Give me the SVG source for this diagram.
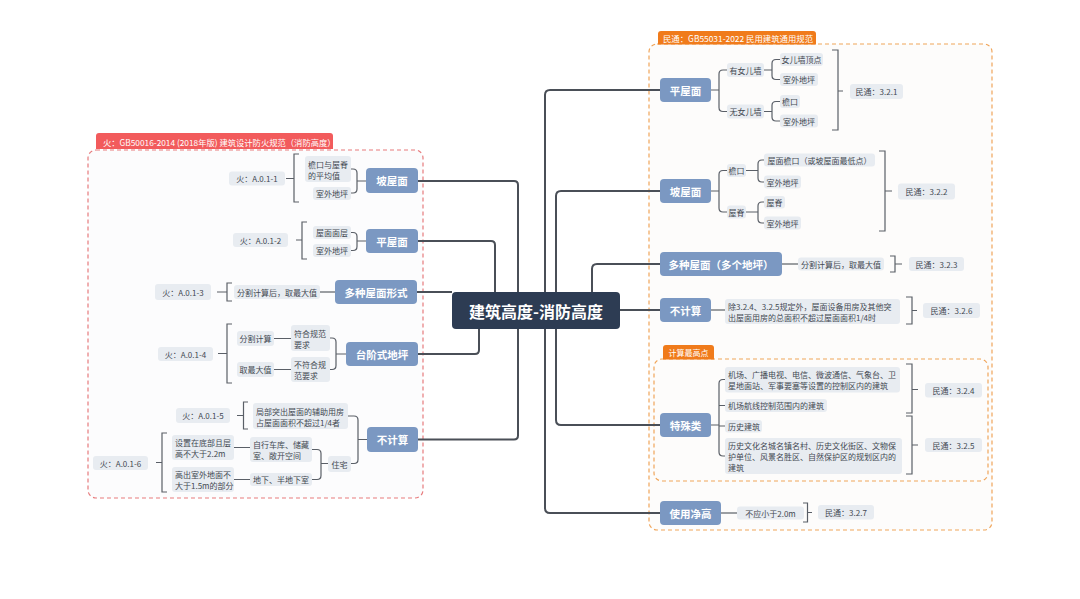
<svg xmlns="http://www.w3.org/2000/svg" width="1080" height="599" viewBox="0 0 1080 599">
<style>
text{font-family:"Noto Sans CJK SC","Noto Sans",sans-serif;dominant-baseline:central}
.bx{fill:#e8ecf1}
.t{font-size:8px;fill:#434951}
.tm{font-size:8px;fill:#434951;text-anchor:middle}
.pn{fill:#7b98c2}
.pt{font-size:10.5px;font-weight:bold;fill:#fff;text-anchor:middle}
.ln{stroke:#4a4f57;stroke-width:2;fill:none}
.sl{stroke:#5a5f67;stroke-width:1.2;fill:none}
.tab{font-size:8px;fill:#fff}
</style>
<rect width="1080" height="599" fill="#ffffff"/>

<!-- containers -->
<g id="fire-container">
<rect x="88" y="150" width="335" height="348" rx="8" fill="#fcfcfd" stroke="#e77b7d" stroke-width="1.2" stroke-dasharray="4 3"/>
<path d="M96,149 V136 Q96,133 99,133 H330 Q333,133 333,136 V149 Z" fill="#f25b5c"/>
<text class="tab" x="103" y="141.5" style="font-size:8.3px">火：GB50016-2014 (2018年版) 建筑设计防火规范（消防高度）</text>
</g>
<g id="civil-container">
<rect x="649" y="44" width="343" height="486" rx="8" fill="#fdfcfb" stroke="#f0a55a" stroke-width="1.2" stroke-dasharray="4 3"/>
<path d="M658,44.5 V34 Q658,31 661,31 H813 Q816,31 816,34 V44.5 Z" fill="#f07b1b"/>
<text class="tab" x="663" y="38" style="font-size:8.4px">民通：GB55031-2022 民用建筑通用规范</text>
</g>
<g id="highest-container">
<rect x="654" y="359" width="334" height="122" rx="8" fill="#fdfcfb" stroke="#f0a55a" stroke-width="1.2" stroke-dasharray="4 3"/>
<path d="M663,359.5 V348 Q663,345 666,345 H711 Q714,345 714,348 V359.5 Z" fill="#f07b1b"/>
<text class="tab" x="688.5" y="352.5" style="text-anchor:middle">计算最高点</text>
</g>

<!-- connectors -->
<g id="connectors">
<path class="ln" d="M418,181 H514 Q518,181 518,185 V292"/>
<path class="ln" d="M418,241 H491 Q495,241 495,245 V292"/>
<path class="ln" d="M417,292 H452"/>
<path class="ln" d="M418,354 H475 Q479,354 479,350 V329"/>
<path class="ln" d="M418,439.5 H514 Q518,439.5 518,435.5 V329"/>
<path class="ln" d="M545,292 V95 Q545,90 550,90 H660"/>
<path class="ln" d="M545,329 V508 Q545,513 550,513 H660"/>
<path class="ln" d="M556,292 V196 Q556,191 561,191 H660"/>
<path class="ln" d="M592,292 V269 Q592,264 597,264 H660"/>
<path class="ln" d="M620,310 H660"/>
<path class="ln" d="M556,329 V420 Q556,425 561,425 H660"/>

<!-- left sub connectors -->
<path class="sl" d="M366,181 H357 M351,169 H353 Q357,169 357,173 V189 Q357,193 353,193 H351"/>
<path class="sl" d="M299,154 H294 V202 H299 M294,178.5 H286"/>
<path class="sl" d="M366,241 H357 M351,232.5 H353 Q357,232.5 357,236.5 V246.5 Q357,250.5 353,250.5 H351"/>
<path class="sl" d="M307,222 H302 V259 H307 M302,240 H296"/>
<path class="sl" d="M335,292 H320"/>
<path class="sl" d="M232,283 H227 V301 H232 M227,292 H217"/>
<path class="sl" d="M346,354 H336 M330,338 H332 Q336,338 336,342 V365.5 Q336,369.5 332,369.5 H330"/>
<path class="sl" d="M274,338.5 H291 M274,369.5 H291"/>
<path class="sl" d="M232,324 H227 V383 H232 M227,353.5 H218"/>
<path class="sl" d="M367,439.5 H358 M348,416 H354 Q358,416 358,420 V459.5 Q358,463.5 354,463.5 H351"/>
<path class="sl" d="M248,402 H243.5 V429 H248 M243.5,415.5 H237"/>
<path class="sl" d="M328,463.5 H321 M312,449.5 H317 Q321,449.5 321,453.5 V475.5 Q321,479.5 317,479.5 H312"/>
<path class="sl" d="M234,447.5 H250 M234,479.5 H250"/>
<path class="sl" d="M167,433 H162 V492 H167 M162,462.5 H156"/>

<!-- right sub connectors -->
<path class="sl" d="M711,90 H719 M727,70 H723 Q719,70 719,74 V107.5 Q719,111.5 723,111.5 H727"/>
<path class="sl" d="M764,70 H772 M780,59.5 H776 Q772,59.5 772,63.5 V75.5 Q772,79.5 776,79.5 H780"/>
<path class="sl" d="M764,111.5 H772 M780,101.5 H776 Q772,101.5 772,105.5 V117 Q772,121 776,121 H780"/>
<path class="sl" d="M832,50 H838 V130 H832 M838,91 H843"/>
<path class="sl" d="M711,191 H719 M727,170.5 H723 Q719,170.5 719,174.5 V208 Q719,212 723,212 H727"/>
<path class="sl" d="M746,170.5 H758 M764,160 H762 Q758,160 758,164 V178 Q758,182 762,182 H764"/>
<path class="sl" d="M746,212 H758 M764,202 H762 Q758,202 758,206 V219 Q758,223 762,223 H764"/>
<path class="sl" d="M879,151 H885 V231 H879 M885,191 H892"/>
<path class="sl" d="M782,264 H798"/>
<path class="sl" d="M890,256 H895 V272 H890 M895,264 H902"/>
<path class="sl" d="M711,310 H725"/>
<path class="sl" d="M906,297 H912 V324 H906 M912,310.5 H917"/>
<path class="sl" d="M711,425 H719 M725,379.5 H723 Q719,379.5 719,383.5 V452 Q719,456 723,456 H725 M719,405.5 H725 M719,426 H725"/>
<path class="sl" d="M906,364 H912 V413 H906 M912,389.5 H918"/>
<path class="sl" d="M906,416 H912 V474 H906 M912,445 H918"/>
<path class="sl" d="M721,513 H737"/>
<path class="sl" d="M803,503 H807.5 V522 H803 M807.5,512.5 H812"/>
</g>

<!-- center -->
<g id="root">
<rect x="452" y="292" width="168" height="37" rx="4" fill="#2d3c53"/>
<text x="536" y="310.5" style="font-size:16px;font-weight:bold;fill:#fff;text-anchor:middle">建筑高度-消防高度</text>
</g>

<!-- LEFT nodes -->
<g id="l-poumian">
<rect class="pn" x="366" y="168" width="52" height="25" rx="4"/>
<text class="pt" x="392" y="180.5">坡屋面</text>
<rect class="bx" x="305" y="156" width="46" height="26" rx="3"/>
<text class="t" x="308"><tspan x="308" y="163.5">檐口与屋脊</tspan><tspan x="308" y="174.5">的平均值</tspan></text>
<rect class="bx" x="313" y="187" width="38" height="13" rx="3"/>
<text class="tm" x="332" y="193.5">室外地坪</text>
<rect class="bx" x="229" y="171.5" width="56" height="14" rx="3"/>
<text class="tm" x="257" y="178.5">火：A.0.1-1</text>
</g>
<g id="l-pingmian">
<rect class="pn" x="366" y="229" width="52" height="24" rx="4"/>
<text class="pt" x="392" y="241">平屋面</text>
<rect class="bx" x="313" y="226" width="38" height="13" rx="3"/>
<text class="tm" x="332" y="232.5">屋面面层</text>
<rect class="bx" x="313" y="244" width="38" height="13" rx="3"/>
<text class="tm" x="332" y="250.5">室外地坪</text>
<rect class="bx" x="233" y="233" width="55" height="14" rx="3"/>
<text class="tm" x="260.5" y="240">火：A.0.1-2</text>
</g>
<g id="l-duozhong">
<rect class="pn" x="335" y="280" width="82" height="24" rx="4"/>
<text class="pt" x="376" y="292">多种屋面形式</text>
<rect class="bx" x="234" y="285" width="86" height="14" rx="3"/>
<text class="tm" x="277" y="292">分割计算后，取最大值</text>
<rect class="bx" x="155" y="284" width="56" height="16" rx="3"/>
<text class="tm" x="183" y="292">火：A.0.1-3</text>
</g>
<g id="l-taijie">
<rect class="pn" x="346" y="342" width="72" height="24" rx="4"/>
<text class="pt" x="382" y="354">台阶式地坪</text>
<rect class="bx" x="291" y="325" width="39" height="26" rx="3"/>
<text class="t"><tspan x="294" y="332.5">符合规范</tspan><tspan x="294" y="343.5">要求</tspan></text>
<rect class="bx" x="291" y="357" width="39" height="25" rx="3"/>
<text class="t"><tspan x="294" y="364">不符合规</tspan><tspan x="294" y="375">范要求</tspan></text>
<rect class="bx" x="237" y="331" width="37" height="15" rx="3"/>
<text class="tm" x="255.5" y="338.5">分割计算</text>
<rect class="bx" x="237" y="362" width="37" height="15" rx="3"/>
<text class="tm" x="255.5" y="369.5">取最大值</text>
<rect class="bx" x="158" y="347" width="55" height="14" rx="3"/>
<text class="tm" x="185.5" y="354">火：A.0.1-4</text>
</g>
<g id="l-bujisuan">
<rect class="pn" x="367" y="427" width="51" height="25" rx="4"/>
<text class="pt" x="392.5" y="439.5">不计算</text>
<rect class="bx" x="253" y="403" width="95" height="26" rx="3"/>
<text class="t"><tspan x="256" y="410.5">局部突出屋面的辅助用房</tspan><tspan x="256" y="421.5">占屋面面积不超过1/4者</tspan></text>
<rect class="bx" x="176" y="408" width="54" height="15" rx="3"/>
<text class="tm" x="203" y="415.5">火：A.0.1-5</text>
<rect class="bx" x="328" y="456" width="23" height="16" rx="3"/>
<text class="tm" x="339.5" y="464">住宅</text>
<rect class="bx" x="250" y="437" width="62" height="25" rx="3"/>
<text class="t"><tspan x="253" y="444">自行车库、储藏</tspan><tspan x="253" y="455">室、敞开空间</tspan></text>
<rect class="bx" x="250" y="473" width="62" height="13" rx="3"/>
<text class="tm" x="281" y="479.5">地下、半地下室</text>
<rect class="bx" x="172" y="435" width="62" height="25" rx="3"/>
<text class="t"><tspan x="175" y="442">设置在底部且层</tspan><tspan x="175" y="453">高不大于2.2m</tspan></text>
<rect class="bx" x="172" y="467" width="62" height="25" rx="3"/>
<text class="t"><tspan x="175" y="474">高出室外地面不</tspan><tspan x="175" y="485">大于1.5m的部分</tspan></text>
<rect class="bx" x="93" y="456" width="55" height="14" rx="3"/>
<text class="tm" x="120.5" y="463">火：A.0.1-6</text>
</g>

<!-- RIGHT nodes -->
<g id="r-pingmian">
<rect class="pn" x="660" y="78" width="51" height="24" rx="4"/>
<text class="pt" x="685.5" y="90">平屋面</text>
<rect class="bx" x="727" y="63" width="37" height="14" rx="3"/>
<text class="tm" x="745.5" y="70">有女儿墙</text>
<rect class="bx" x="727" y="104.5" width="37" height="14" rx="3"/>
<text class="tm" x="745.5" y="111.5">无女儿墙</text>
<rect class="bx" x="780" y="53" width="43" height="13" rx="3"/>
<text class="tm" x="801.5" y="59.5">女儿墙顶点</text>
<rect class="bx" x="780" y="73" width="38" height="13" rx="3"/>
<text class="tm" x="799" y="79.5">室外地坪</text>
<rect class="bx" x="780" y="95" width="20" height="13" rx="3"/>
<text class="tm" x="790" y="101.5">檐口</text>
<rect class="bx" x="780" y="114.5" width="38" height="13" rx="3"/>
<text class="tm" x="799" y="121">室外地坪</text>
<rect class="bx" x="850" y="84" width="53" height="15" rx="3"/>
<text class="tm" x="876.5" y="91.5">民通：3.2.1</text>
</g>
<g id="r-poumian">
<rect class="pn" x="660" y="179" width="51" height="24" rx="4"/>
<text class="pt" x="685.5" y="191">坡屋面</text>
<rect class="bx" x="727" y="164" width="19" height="13" rx="3"/>
<text class="tm" x="736.5" y="170.5">檐口</text>
<rect class="bx" x="727" y="205.5" width="19" height="13" rx="3"/>
<text class="tm" x="736.5" y="212">屋脊</text>
<rect class="bx" x="764" y="153.5" width="111" height="13" rx="3"/>
<text class="tm" x="819.5" y="160">屋面檐口（或坡屋面最低点）</text>
<rect class="bx" x="764" y="175.5" width="37" height="13" rx="3"/>
<text class="tm" x="782.5" y="182">室外地坪</text>
<rect class="bx" x="764" y="196" width="21" height="12.5" rx="3"/>
<text class="tm" x="774.5" y="202">屋脊</text>
<rect class="bx" x="764" y="216.5" width="37" height="13" rx="3"/>
<text class="tm" x="782.5" y="223">室外地坪</text>
<rect class="bx" x="898" y="183.5" width="57" height="16" rx="3"/>
<text class="tm" x="926.5" y="191.5">民通：3.2.2</text>
</g>
<g id="r-duozhong">
<rect class="pn" x="660" y="252" width="122" height="24" rx="4"/>
<text class="pt" x="721" y="264">多种屋面（多个地坪）</text>
<rect class="bx" x="798" y="257.5" width="86" height="13" rx="3"/>
<text class="tm" x="841" y="264">分割计算后，取最大值</text>
<rect class="bx" x="909" y="257" width="55" height="14" rx="3"/>
<text class="tm" x="936.5" y="264">民通：3.2.3</text>
</g>
<g id="r-bujisuan">
<rect class="pn" x="660" y="298" width="51" height="24" rx="4"/>
<text class="pt" x="685.5" y="310">不计算</text>
<rect class="bx" x="725" y="299" width="175" height="25" rx="3"/>
<text class="t"><tspan x="728" y="306">除3.2.4、3.2.5规定外，屋面设备用房及其他突</tspan><tspan x="728" y="317">出屋面用房的总面积不超过屋面面积1/4时</tspan></text>
<rect class="bx" x="923" y="303" width="57" height="15" rx="3"/>
<text class="tm" x="951.5" y="310.5">民通：3.2.6</text>
</g>
<g id="r-teshu">
<rect class="pn" x="660" y="413" width="51" height="24" rx="4"/>
<text class="pt" x="685.5" y="425">特殊类</text>
<rect class="bx" x="725" y="367" width="175" height="25.5" rx="3"/>
<text class="t"><tspan x="728" y="374">机场、广播电视、电信、微波通信、气象台、卫</tspan><tspan x="728" y="385">星地面站、军事要塞等设置的控制区内的建筑</tspan></text>
<rect class="bx" x="725" y="399" width="102" height="13" rx="3"/>
<text class="t" x="728" y="405.5">机场航线控制范围内的建筑</text>
<rect class="bx" x="725" y="420" width="37" height="12.5" rx="3"/>
<text class="t" x="728" y="426">历史建筑</text>
<rect class="bx" x="725" y="438" width="177" height="36" rx="3"/>
<text class="t"><tspan x="728" y="445">历史文化名城名镇名村、历史文化街区、文物保</tspan><tspan x="728" y="456">护单位、风景名胜区、自然保护区的规划区内的</tspan><tspan x="728" y="467">建筑</tspan></text>
<rect class="bx" x="925" y="383" width="57" height="14.5" rx="3"/>
<text class="tm" x="953.5" y="390">民通：3.2.4</text>
<rect class="bx" x="925" y="438" width="57" height="14" rx="3"/>
<text class="tm" x="953.5" y="445">民通：3.2.5</text>
</g>
<g id="r-jinggao">
<rect class="pn" x="660" y="501" width="61" height="24" rx="4"/>
<text class="pt" x="690.5" y="513">使用净高</text>
<rect class="bx" x="737" y="506.5" width="67" height="13" rx="3"/>
<text class="tm" x="770.5" y="513">不应小于2.0m</text>
<rect class="bx" x="818" y="505" width="56" height="14.5" rx="3"/>
<text class="tm" x="846" y="512.5">民通：3.2.7</text>
</g>
</svg>
